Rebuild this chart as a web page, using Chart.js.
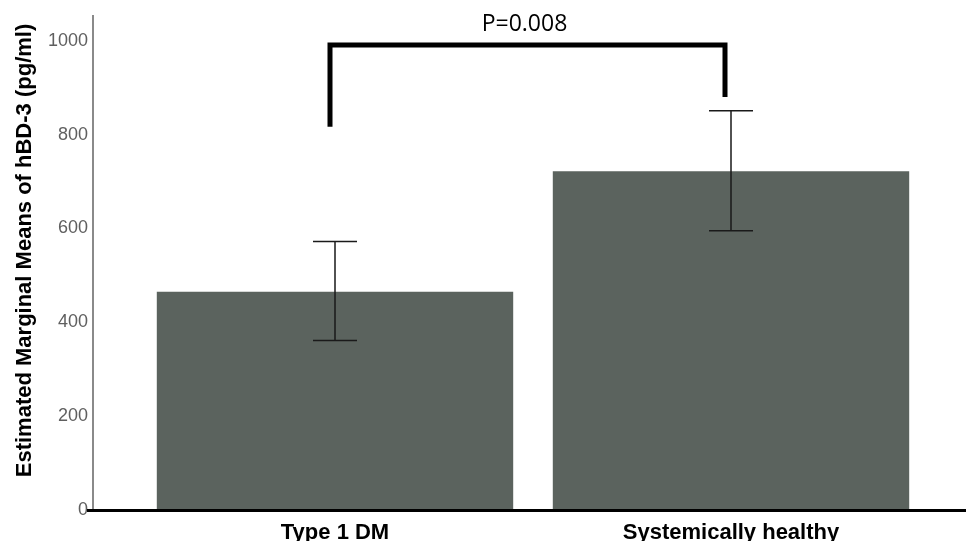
<!DOCTYPE html>
<html>
<head>
<meta charset="utf-8">
<script src="https://cdn.jsdelivr.net/npm/chart.js@4"></script>
<style>
  html, body { margin: 0; padding: 0; background: #fff; }
  canvas { display: block; }
</style>
</head>
<body>
<canvas id="chart" width="973" height="541"></canvas>
<script>
// Data
const categories = ['Type 1 DM', 'Systemically healthy'];
const means = [465, 722];
const ciLow = [361, 595];
const ciHigh = [572, 851];
const yTicks = [0, 200, 400, 600, 800, 1000];
const yTitle = 'Estimated Marginal Means of hBD-3 (pg/ml)';
const bracketLegEnds = [817, 880];
const bracketTop = 991;
const pLabel = 'P=0.008';

const boldFont = 'bold 22px "Liberation Sans", Arial, sans-serif';

// axis lines, error bars, y title and the significance bracket
const overlay = {
    id: 'overlay',
    afterDatasetsDraw(chart) {
        const ctx = chart.ctx;
        const x = chart.scales.x;
        const y = chart.scales.y;
        const area = chart.chartArea;
        ctx.save();

        // error bars
        ctx.strokeStyle = '#1a1a1a';
        ctx.lineWidth = 1.5;
        const cap = 22;
        categories.forEach((c, i) => {
            const cx = x.getPixelForValue(i);
            const top = y.getPixelForValue(ciHigh[i]);
            const bot = y.getPixelForValue(ciLow[i]);
            ctx.beginPath();
            ctx.moveTo(cx, top);
            ctx.lineTo(cx, bot);
            ctx.moveTo(cx - cap, top);
            ctx.lineTo(cx + cap, top);
            ctx.moveTo(cx - cap, bot);
            ctx.lineTo(cx + cap, bot);
            ctx.stroke();
        });

        // y axis line (grey) and x axis line (black)
        const axisX = area.left - 44;
        ctx.strokeStyle = '#8a8a8a';
        ctx.lineWidth = 2;
        ctx.beginPath();
        ctx.moveTo(axisX, area.top);
        ctx.lineTo(axisX, area.bottom);
        ctx.stroke();

        ctx.strokeStyle = '#000';
        ctx.lineWidth = 3;
        ctx.beginPath();
        ctx.moveTo(axisX - 6, area.bottom + 0.5);
        ctx.lineTo(area.right + 37, area.bottom + 0.5);
        ctx.stroke();

        // y axis title, a little above the middle of the axis like the original
        ctx.save();
        ctx.translate(25, (area.top + area.bottom) / 2 - 12);
        ctx.rotate(-Math.PI / 2);
        ctx.fillStyle = '#000';
        ctx.font = boldFont;
        ctx.textAlign = 'center';
        ctx.textBaseline = 'middle';
        ctx.fillText(yTitle, 0, 0);
        ctx.restore();

        // significance bracket
        const lx = x.getPixelForValue(0) - 5;
        const rx = x.getPixelForValue(1) - 6;
        const ty = y.getPixelForValue(bracketTop);
        ctx.strokeStyle = '#000';
        ctx.lineWidth = 5;
        ctx.lineJoin = 'miter';
        ctx.lineCap = 'butt';
        ctx.beginPath();
        ctx.moveTo(lx, y.getPixelForValue(bracketLegEnds[0]));
        ctx.lineTo(lx, ty);
        ctx.lineTo(rx, ty);
        ctx.lineTo(rx, y.getPixelForValue(bracketLegEnds[1]));
        ctx.stroke();

        ctx.fillStyle = '#000';
        ctx.font = '23px "Open Sans"';
        ctx.textAlign = 'center';
        ctx.textBaseline = 'alphabetic';
        ctx.fillText(pLabel, (lx + rx) / 2 - 3, ty - 14);
        ctx.restore();
    }
};

new Chart(document.getElementById('chart'), {
    type: 'bar',
    data: {
        labels: categories,
        datasets: [{
            data: means,
            backgroundColor: '#5b635e',
            borderWidth: 0,
            barPercentage: 0.9,
            categoryPercentage: 1.0
        }]
    },
    options: {
        responsive: false,
        animation: false,
        layout: { padding: { top: 15, right: 44, left: 0, bottom: 0 } },
        plugins: {
            legend: { display: false },
            tooltip: { enabled: false }
        },
        scales: {
            x: {
                grid: { display: false, drawTicks: false },
                border: { display: false },
                ticks: {
                    color: '#000',
                    padding: 10,
                    maxRotation: 0,
                    font: { family: '"Liberation Sans", Arial, sans-serif', size: 22, weight: 'bold' }
                },
                afterFit(scale) {
                    scale.height = 31;
                    scale.paddingLeft = 0;
                    scale.paddingRight = 0;
                }
            },
            y: {
                min: 0,
                max: 1055,
                grid: { display: false, drawTicks: false },
                border: { display: false },
                afterBuildTicks(scale) { scale.ticks = yTicks.map(v => ({ value: v })); },
                ticks: {
                    color: '#5f5f5f',
                    padding: 49,
                    callback: v => String(v),
                    font: { family: '"Liberation Sans", Arial, sans-serif', size: 18 }
                },
                afterFit(scale) {
                    scale.width = 137;
                    scale.paddingTop = 0;
                    scale.paddingBottom = 0;
                }
            }
        }
    },
    plugins: [overlay]
});
</script>
</body>
</html>
